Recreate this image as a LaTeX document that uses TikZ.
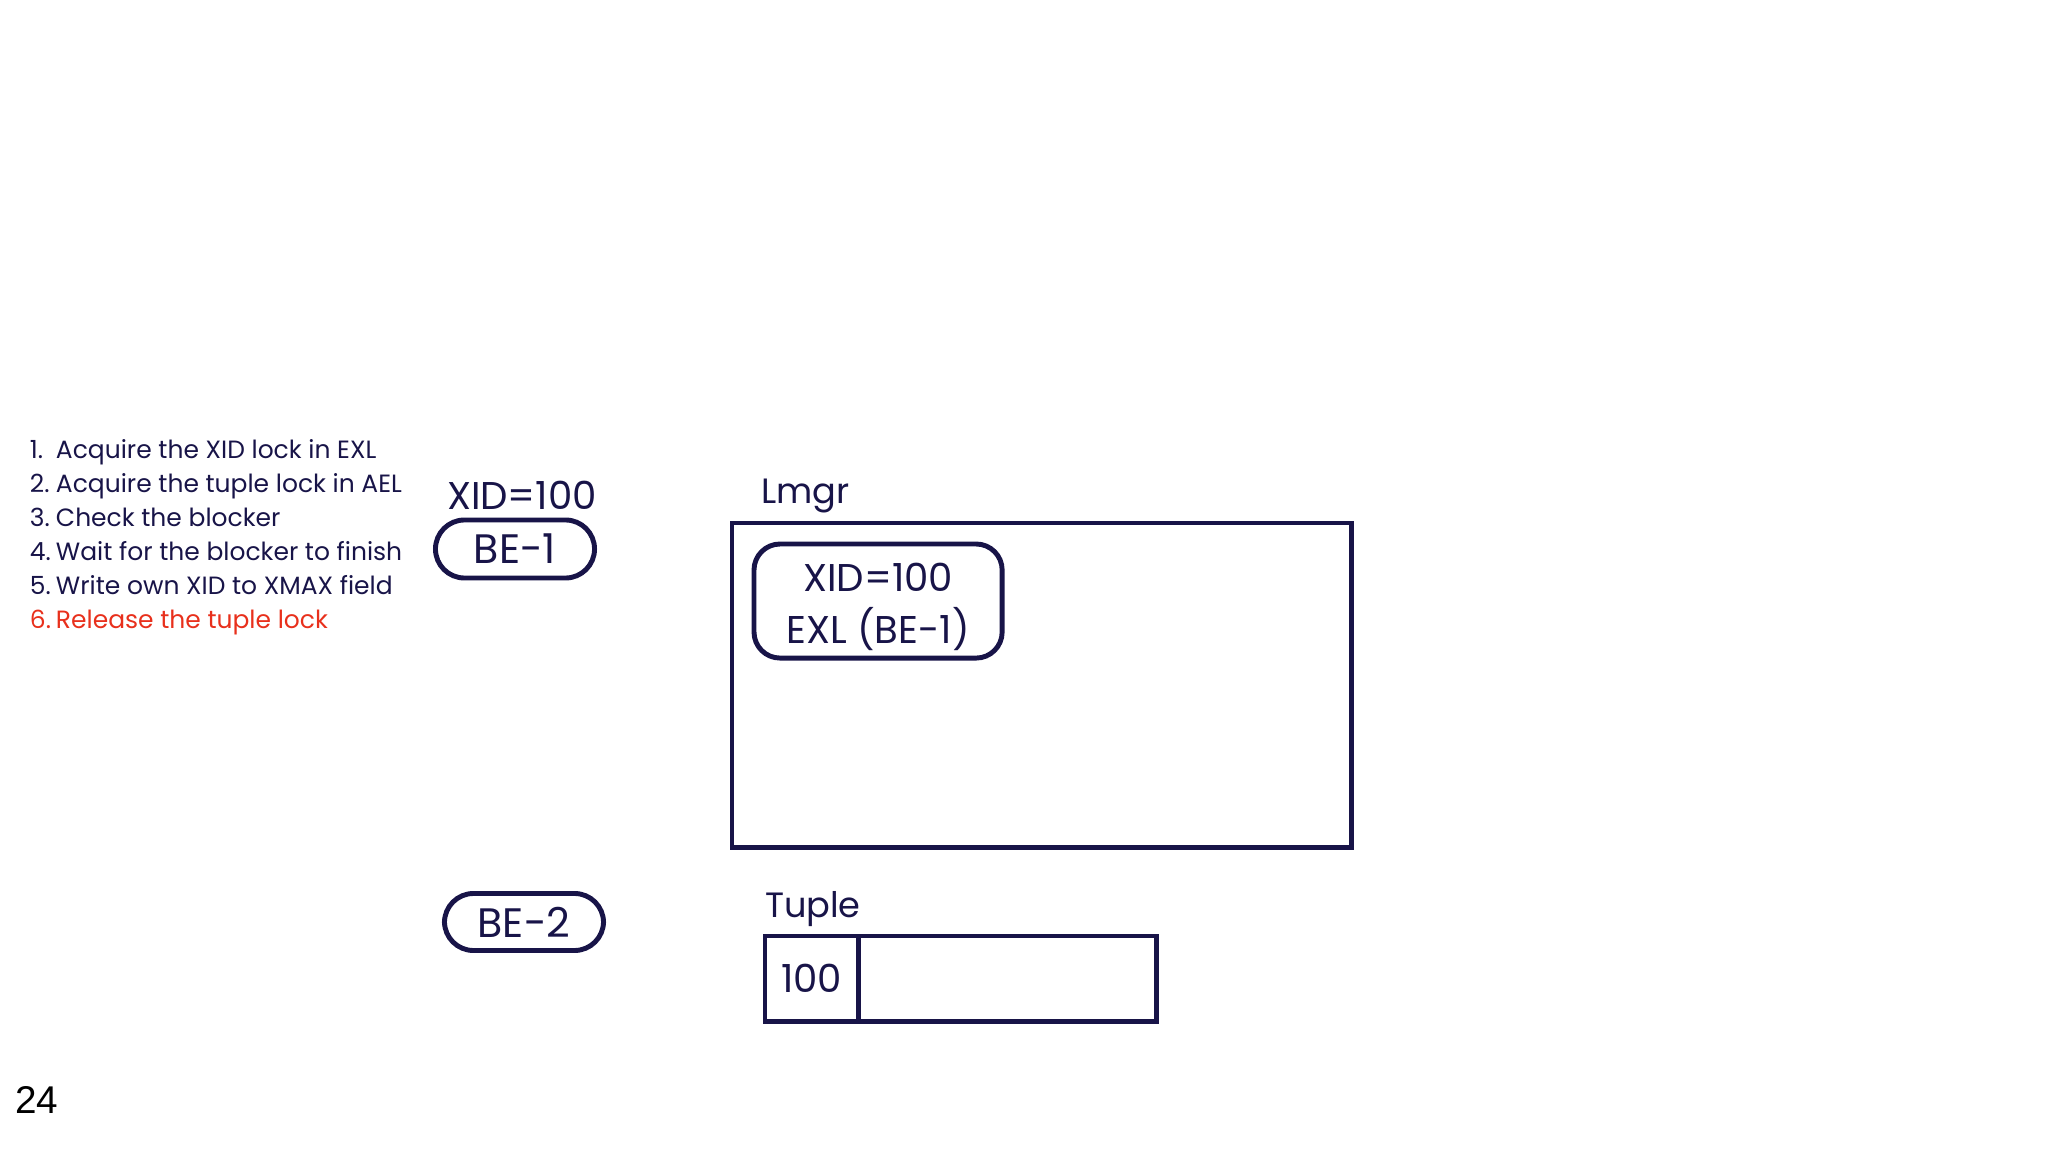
\documentclass[tikz,border=0pt]{standalone}
\usepackage{fontspec}
\setmainfont{Poppins}
\newfontfamily\pagefont{Liberation Sans}
\usetikzlibrary{positioning}
\definecolor{ink}{RGB}{24,20,72}
\definecolor{alert}{RGB}{232,48,28}

\begin{document}
\begin{tikzpicture}[
                x=0.01cm, y=-0.01cm,
                every node/.style={text=ink, outer sep=0pt},
                pill/.style={draw=ink, line width=1.4pt, rounded corners=0.29cm, minimum width=1.59cm, minimum height=0.58cm, inner sep=0pt, font=\fontsize{11.7}{14}\selectfont},
                frame/.style={draw=ink, line width=1.4pt, inner sep=0pt},
                title/.style={inner sep=0pt, font=\fontsize{10}{12}\selectfont},
                steps/.style={inner sep=0pt, align=left, font=\fontsize{7.1}{9.7}\selectfont}
            ]
                \useasboundingbox (0,0) rectangle (2048,1152);

                % Steps
                \node[steps, anchor=north west] (steps) at (30,439) {%
                    \makebox[0.26cm][l]{1.}Acquire the XID lock in EXL\\
                    \makebox[0.26cm][l]{2.}Acquire the tuple lock in AEL\\
                    \makebox[0.26cm][l]{3.}Check the blocker\\
                    \makebox[0.26cm][l]{4.}Wait for the blocker to finish\\
                    \makebox[0.26cm][l]{5.}Write own XID to XMAX field\\
                    \textcolor{alert}{\makebox[0.26cm][l]{6.}Release the tuple lock}};

                % Backends
                \node[pill] (be1) at (515,549) {BE-1};
                \node[title, font=\fontsize{11}{13}\selectfont, above=0.1cm of be1, xshift=0.07cm] (be1xid) {XID=100};
                \node[pill, minimum height=0.57cm] (be2) at (524,922) {BE-2};

                % Lock manager
                \node[frame, minimum width=6.19cm, minimum height=3.24cm, anchor=north west] (lmgr) at (732,523) {};
                \node[title, above right=0.1cm and 0.29cm of lmgr.north west] (lmgrlabel) {Lmgr};
                \node[pill, rounded corners=0.26cm, minimum width=2.48cm, minimum height=1.14cm, anchor=north west] (xidlock) at (754,544) {};
                \node[inner sep=0pt, align=center, font=\fontsize{11}{14.8}\selectfont, yshift=-0.06cm] (xidtext) at (xidlock) {XID=100\\EXL (BE-1)};

                % Tuple
                \node[frame, minimum width=0.93cm, minimum height=0.85cm, anchor=north west,
                      font=\fontsize{11}{13}\selectfont] (xmax) at (765,936) {100};
                \node[frame, minimum width=2.98cm, minimum height=0.85cm, right=0pt of xmax] (data) {};
                \node[title, above right=0.09cm and 0cm of xmax.north west] (tuplelabel) {Tuple};

                % Page number
                \node[anchor=base west, inner sep=0pt, text=black, font=\pagefont\fontsize{11}{13}\selectfont] (page) at (15,1113) {24};
            \end{tikzpicture}
\end{document}
